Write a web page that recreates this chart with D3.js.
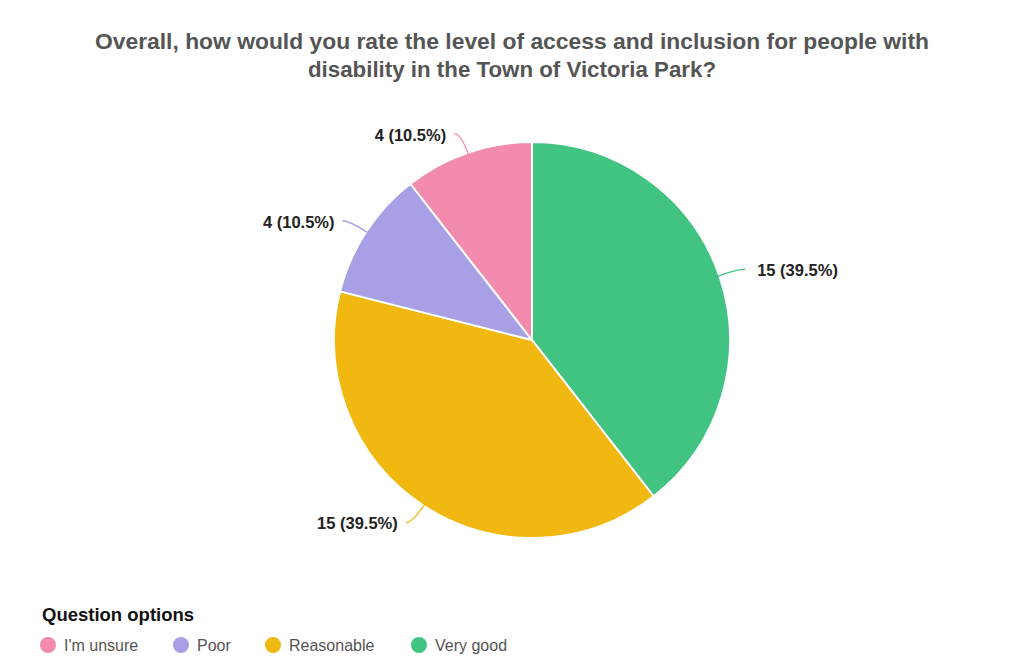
<!DOCTYPE html>
<html>
<head>
<meta charset="utf-8">
<script src="https://cdn.jsdelivr.net/npm/d3@7"></script>
<style>
  body { margin: 0; background: #fff; }
  svg { display: block; font-family: "Liberation Sans", Arial, sans-serif; }
</style>
</head>
<body>
<div id="chart"></div>
<script>
// --- Data ---
const categories = ["Very good", "Reasonable", "Poor", "I'm unsure"];
const counts = [15, 15, 4, 4];
const colors = ["#41C382", "#F1B811", "#A8A0E4", "#F38BAE"];
const legendOrder = ["I'm unsure", "Poor", "Reasonable", "Very good"];
const titleLines = [
  "Overall, how would you rate the level of access and inclusion for people with",
  "disability in the Town of Victoria Park?"
];

const width = 1016, height = 661;
const cx = 532, cy = 340, radius = 198;

const svg = d3.select("#chart").append("svg")
  .attr("width", width)
  .attr("height", height);

// --- Title ---
const titleWidths = [834, 408];
svg.append("g").selectAll("text")
  .data(titleLines)
  .join("text")
  .attr("x", 512)
  .attr("y", (d, i) => 49 + i * 28)
  .attr("text-anchor", "middle")
  .attr("font-size", 21.5)
  .attr("font-weight", "bold")
  .attr("fill", "#555")
  .attr("textLength", (d, i) => titleWidths[i])
  .attr("lengthAdjust", "spacingAndGlyphs")
  .text(d => d);

// --- Pie ---
const data = categories.map((c, i) => ({ name: c, value: counts[i], color: colors[i] }));
const total = d3.sum(counts);

const pie = d3.pie().sort(null).value(d => d.value);
const arc = d3.arc().innerRadius(0).outerRadius(radius);
const arcs = pie(data);

const g = svg.append("g").attr("transform", `translate(${cx},${cy})`);

g.selectAll("path.slice")
  .data(arcs)
  .join("path")
  .attr("class", "slice")
  .attr("d", arc)
  .attr("fill", d => d.data.color)
  .attr("stroke", "#fff")
  .attr("stroke-width", 2);

// Leader lines + labels
arcs.forEach(d => {
  const mid = (d.startAngle + d.endAngle) / 2;
  const sx = Math.sin(mid), sy = -Math.cos(mid);
  const p0 = [sx * (radius - 2), sy * (radius - 2)];
  const p1 = [sx * (radius + 20), sy * (radius + 20)];
  const dir = sx >= 0 ? 1 : -1;
  const p2 = [p1[0] + dir * 7, p1[1]];
  g.append("path")
    .attr("d", `M${p0[0]},${p0[1]} Q${p1[0]},${p1[1]} ${p2[0]},${p2[1]}`)
    .attr("fill", "none")
    .attr("stroke", d.data.color)
    .attr("stroke-width", 1.3);
  const pct = (d.data.value / total * 100).toFixed(1);
  g.append("text")
    .attr("x", p2[0] + dir * (dir > 0 ? 12 : 8))
    .attr("y", p2[1] + 1)
    .attr("dy", "0.35em")
    .attr("text-anchor", dir > 0 ? "start" : "end")
    .attr("font-size", 16.5)
    .attr("font-weight", "bold")
    .attr("fill", "#222")
    .text(`${d.data.value} (${pct}%)`);
});

// --- Legend ---
svg.append("text")
  .attr("x", 42)
  .attr("y", 621)
  .attr("font-size", 18.5)
  .attr("font-weight", "bold")
  .attr("fill", "#111")
  .text("Question options");

const legendX = [48, 181, 273, 419];
const legend = svg.append("g").selectAll("g")
  .data(legendOrder)
  .join("g")
  .attr("transform", (d, i) => `translate(${legendX[i]},645)`);

legend.append("circle")
  .attr("r", 8)
  .attr("fill", d => colors[categories.indexOf(d)]);

legend.append("text")
  .attr("x", 16)
  .attr("dy", "0.35em")
  .attr("font-size", 16)
  .attr("fill", "#555")
  .text(d => d);
</script>
</body>
</html>
